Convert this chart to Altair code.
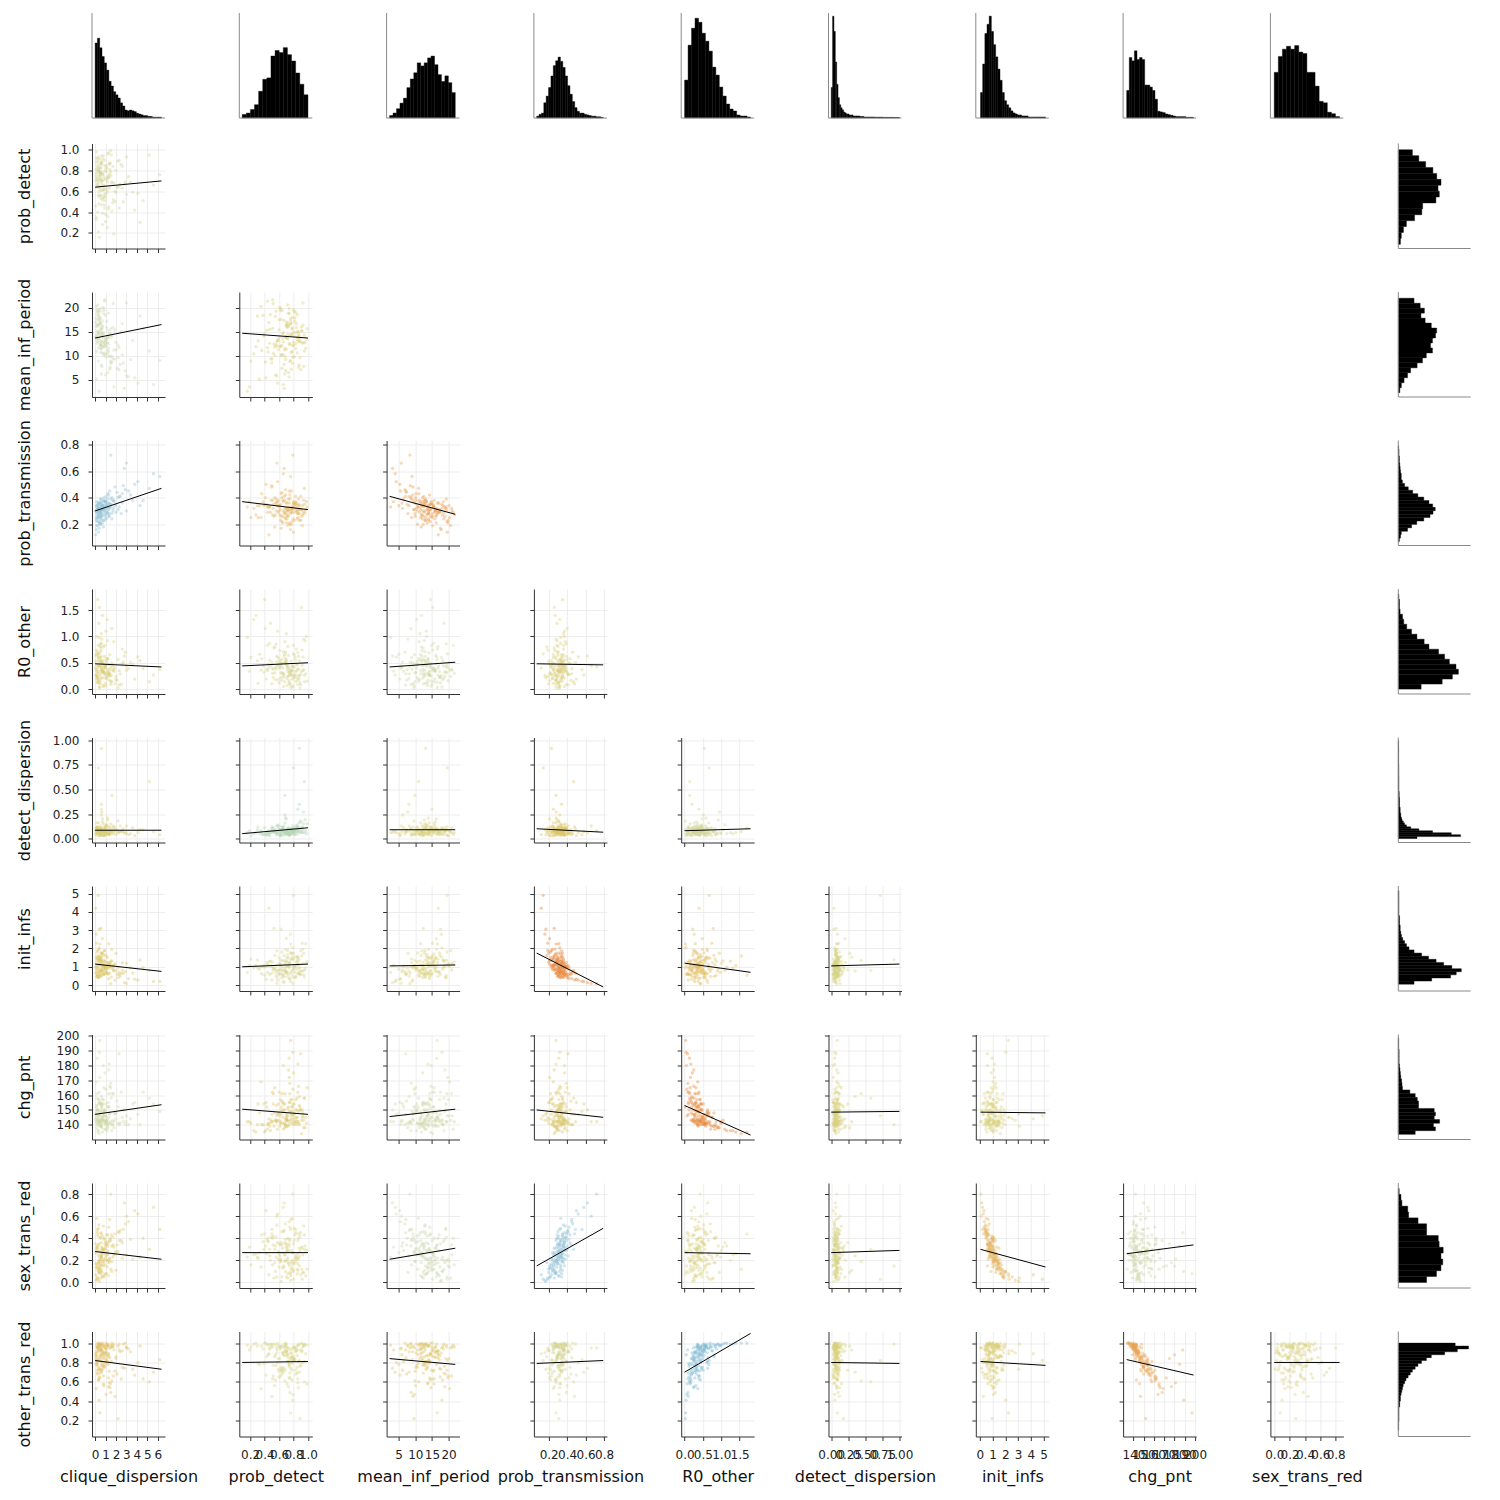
import altair as alt
import pandas as pd

names = ["clique_dispersion", "prob_detect", "mean_inf_period", "prob_transmission",
         "R0_other", "detect_dispersion", "init_infs", "chg_pnt", "sex_trans_red",
         "other_trans_red"]

# ---- posterior sample (values read/estimated from the picture) ----
clique_dispersion = [0.6, 0.3, 1.4, 0.2, 2.3, 0.9, 0.5, 1.8, 0.1, 1.1,
                     0.4, 3.2, 0.15, 0.7, 1.2, 0.25, 1.6, 0.5, 0.8, 1.3,
                     4.1, 0.2, 0.6, 0.9, 2.6, 0.1, 1.5, 0.35, 0.7, 1.2,
                     0.45, 0.8, 2.0, 1.9, 0.3, 0.65, 0.4, 1.0, 0.15, 2.8,
                     1.7, 0.55, 1.3, 0.75, 2.2, 0.05, 0.6, 1.1, 3.6, 0.3,
                     0.85, 5.2, 0.2, 1.25, 0.55, 1.4, 0.5, 1.0, 2.1, 0.7,
                     0.1, 1.6, 0.95, 0.35, 6.2, 1.15, 2.5, 0.45, 0.8, 1.05,
                     0.6, 3.0, 0.25, 1.35, 1.5, 0.9, 0.2, 0.6, 4.6, 0.4,
                     0.5, 1.1, 0.2, 1.7, 0.8, 0.35, 2.4, 0.6, 0.3, 0.45,
                     1.3, 0.15, 2.9, 0.7, 1.0, 0.55, 1.9, 0.25, 1.2, 0.85,
                     0.4, 0.65, 1.45, 3.8, 0.1, 0.9, 1.05, 0.3, 1.6, 1.2,
                     0.75, 2.6, 0.4, 0.2, 0.95, 1.5, 0.05, 0.6, 1.15, 5.6,
                     0.5, 2.0, 0.35, 0.8, 0.6, 1.3, 3.4, 0.25, 1.0, 0.3,
                     0.7, 0.45, 2.2, 0.9, 1.1, 0.15, 1.75, 1.4, 0.55, 0.35,
                     0.7, 2.3, 0.6, 0.2, 1.05, 3.0, 0.4, 1.25, 4.3, 0.1,
                     0.95, 0.5, 1.35, 2.7, 0.65, 0.3, 1.55, 0.85, 0.5, 1.8]
prob_detect = [0.72, 0.55, 0.81, 0.64, 0.90, 0.47, 0.77, 0.68, 0.35, 0.85,
               0.60, 0.74, 0.92, 0.52, 0.69, 0.83, 0.41, 0.79, 0.66, 0.97,
               0.58, 0.71, 0.88, 0.44, 0.63, 0.76, 0.99, 0.57, 0.28, 0.73,
               0.86, 0.62, 0.80, 0.50, 0.70, 0.94, 0.65, 0.38, 0.78, 0.67,
               0.84, 0.53, 0.75, 0.61, 0.89, 0.46, 0.70, 0.82, 0.59, 0.21,
               0.74, 0.95, 0.66, 0.43, 0.77, 0.87, 0.56, 0.72, 0.64, 0.91,
               0.33, 0.69, 0.80, 0.48, 0.76, 0.60, 0.86, 0.71, 0.54, 0.83,
               0.68, 0.93, 0.40, 0.63, 0.79, 0.57, 0.74, 0.88, 0.51, 0.16,
               0.78, 0.62, 0.85, 0.49, 0.71, 0.93, 0.67, 0.56, 0.80, 0.74,
               0.45, 0.88, 0.69, 0.76, 0.31, 0.83, 0.60, 0.72, 0.96, 0.54,
               0.79, 0.65, 0.87, 0.42, 0.73, 0.90, 0.58, 0.81, 0.68, 0.36,
               0.77, 0.84, 0.63, 0.92, 0.51, 0.75, 0.70, 0.86, 0.25, 0.66,
               0.82, 0.59, 0.78, 0.94, 0.47, 0.73, 0.69, 0.89, 0.55, 0.80,
               0.39, 0.76, 0.64, 0.85, 0.71, 0.98, 0.52, 0.77, 0.61, 0.83,
               0.70, 0.44, 0.87, 0.67, 0.79, 0.57, 0.91, 0.74, 0.30, 0.81,
               0.65, 0.72, 0.86, 0.50, 0.78, 0.68, 0.95, 0.62, 0.75, 0.19]
mean_inf_period = [14.5, 18.2, 9.8, 19.5, 7.1, 12.6, 16.8, 11.2, 20.3, 13.4,
                   17.5, 5.6, 15.2, 10.5, 13.9, 19.1, 8.7, 12.1, 14.8, 11.6,
                   4.3, 16.2, 8.1, 21.4, 10.2, 17.8, 15.6, 13.0, 11.9, 6.5,
                   14.1, 19.9, 12.8, 9.3, 16.5, 7.8, 13.6, 18.4, 10.9, 3.2,
                   15.9, 12.4, 14.3, 20.1, 9.6, 16.9, 11.4, 17.2, 13.2, 8.9,
                   18.8, 11.0, 12.9, 15.3, 10.7, 14.7, 19.3, 13.5, 7.4, 16.0,
                   5.1, 14.0, 12.2, 18.6, 9.0, 13.8, 15.1, 17.0, 11.8, 12.5,
                   6.2, 21.0, 14.6, 10.0, 8.4, 12.0, 16.4, 13.1, 15.7, 2.6,
                   15.8, 11.9, 18.6, 9.4, 13.7, 16.4, 8.2, 12.3, 14.9, 19.8,
                   10.8, 14.2, 6.9, 17.3, 13.1, 11.5, 15.4, 20.6, 12.7, 10.1,
                   18.0, 14.6, 7.6, 5.4, 16.1, 12.9, 13.3, 19.2, 9.9, 11.1,
                   14.4, 16.7, 17.6, 12.6, 21.7, 8.8, 13.9, 15.0, 10.4, 4.0,
                   17.9, 11.3, 14.5, 12.8, 15.5, 18.9, 9.2, 13.6, 6.0, 19.6,
                   14.1, 16.6, 12.2, 10.6, 15.9, 13.4, 20.9, 7.2, 12.0, 14.8,
                   16.3, 11.7, 13.0, 17.4, 9.7, 5.8, 15.2, 12.5, 18.3, 14.0,
                   10.3, 16.8, 13.8, 8.5, 15.6, 11.6, 14.3, 19.4, 12.4, 3.5]
prob_transmission = [0.31, 0.27, 0.36, 0.22, 0.41, 0.33, 0.29, 0.38, 0.25, 0.34,
                     0.30, 0.45, 0.19, 0.35, 0.28, 0.32, 0.40, 0.24, 0.37, 0.31,
                     0.52, 0.26, 0.34, 0.29, 0.43, 0.16, 0.33, 0.36, 0.27, 0.39,
                     0.30, 0.23, 0.35, 0.48, 0.32, 0.28, 0.21, 0.37, 0.33, 0.62,
                     0.30, 0.26, 0.42, 0.34, 0.31, 0.12, 0.36, 0.29, 0.38, 0.25,
                     0.33, 0.47, 0.30, 0.35, 0.20, 0.32, 0.39, 0.27, 0.44, 0.31,
                     0.34, 0.24, 0.37, 0.29, 0.56, 0.33, 0.28, 0.36, 0.18, 0.41,
                     0.32, 0.30, 0.35, 0.26, 0.72, 0.34, 0.31, 0.23, 0.38, 0.33,
                     0.29, 0.35, 0.24, 0.38, 0.32, 0.27, 0.41, 0.30, 0.36, 0.21,
                     0.33, 0.28, 0.46, 0.31, 0.25, 0.37, 0.34, 0.19, 0.29, 0.40,
                     0.32, 0.26, 0.35, 0.50, 0.30, 0.23, 0.37, 0.33, 0.28, 0.43,
                     0.31, 0.36, 0.17, 0.34, 0.27, 0.39, 0.30, 0.25, 0.32, 0.58,
                     0.35, 0.29, 0.22, 0.38, 0.33, 0.26, 0.42, 0.31, 0.36, 0.14,
                     0.34, 0.28, 0.40, 0.30, 0.24, 0.37, 0.32, 0.45, 0.27, 0.35,
                     0.21, 0.33, 0.39, 0.29, 0.31, 0.66, 0.26, 0.36, 0.34, 0.23,
                     0.38, 0.30, 0.28, 0.49, 0.33, 0.25, 0.35, 0.31, 0.20, 0.37]
R0_other = [0.42, 0.18, 0.65, 0.31, 0.08, 0.55, 0.27, 0.90, 0.36, 0.47,
            0.12, 0.39, 0.74, 0.22, 0.58, 0.33, 1.15, 0.45, 0.05, 0.29,
            0.61, 0.37, 0.20, 0.83, 0.48, 0.26, 0.15, 0.52, 1.40, 0.34,
            0.69, 0.41, 0.24, 0.10, 0.56, 0.95, 0.30, 0.44, 0.19, 0.63,
            0.35, 0.78, 0.28, 0.50, 0.02, 0.40, 1.05, 0.23, 0.46, 0.60,
            0.32, 0.14, 0.71, 0.38, 0.53, 0.25, 0.86, 0.43, 0.17, 0.33,
            0.66, 0.49, 0.21, 1.25, 0.37, 0.57, 0.09, 0.44, 0.80, 0.27,
            0.51, 0.36, 1.70, 0.31, 0.42, 0.62, 0.13, 0.54, 0.39, 0.98,
            0.35, 0.52, 0.21, 0.44, 0.07, 0.61, 0.29, 0.38, 0.83, 0.16,
            0.47, 0.26, 0.70, 0.33, 0.11, 0.55, 0.40, 0.24, 0.92, 0.31,
            0.04, 0.49, 0.37, 0.19, 0.64, 0.28, 1.10, 0.42, 0.14, 0.58,
            0.34, 0.76, 0.22, 0.45, 0.30, 0.09, 0.53, 0.39, 1.32, 0.27,
            0.60, 0.18, 0.43, 0.36, 0.87, 0.25, 0.50, 0.12, 0.41, 0.67,
            0.32, 0.03, 0.56, 0.46, 0.20, 1.00, 0.38, 0.29, 0.73, 0.15,
            0.48, 0.35, 0.62, 0.23, 0.06, 0.44, 1.55, 0.31, 0.54, 0.27,
            0.40, 0.81, 0.17, 0.51, 0.36, 0.66, 0.26, 0.45, 0.10, 0.34]
detect_dispersion = [0.06, 0.09, 0.04, 0.12, 0.07, 0.03, 0.10, 0.05, 0.08, 0.14,
                     0.06, 0.04, 0.11, 0.07, 0.21, 0.09, 0.05, 0.13, 0.03, 0.08,
                     0.06, 0.10, 0.35, 0.04, 0.07, 0.09, 0.15, 0.05, 0.06, 0.11,
                     0.08, 0.03, 0.07, 0.12, 0.05, 0.27, 0.09, 0.04, 0.10, 0.06,
                     0.13, 0.07, 0.05, 0.08, 0.18, 0.04, 0.09, 0.06, 0.11, 0.03,
                     0.07, 0.58, 0.10, 0.05, 0.08, 0.12, 0.04, 0.06, 0.09, 0.17,
                     0.05, 0.07, 0.10, 0.06, 0.04, 0.13, 0.08, 0.05, 0.07, 0.09,
                     0.24, 0.06, 0.11, 0.04, 0.08, 0.07, 0.05, 0.92, 0.09, 0.06,
                     0.07, 0.05, 0.11, 0.08, 0.04, 0.09, 0.13, 0.06, 0.10, 0.03,
                     0.08, 0.16, 0.05, 0.07, 0.12, 0.04, 0.09, 0.06, 0.19, 0.08,
                     0.05, 0.11, 0.07, 0.03, 0.10, 0.06, 0.14, 0.08, 0.44, 0.05,
                     0.09, 0.07, 0.04, 0.12, 0.06, 0.10, 0.08, 0.30, 0.05, 0.07,
                     0.11, 0.04, 0.09, 0.15, 0.06, 0.08, 0.05, 0.10, 0.07, 0.72,
                     0.04, 0.09, 0.06, 0.12, 0.08, 0.05, 0.11, 0.07, 0.03, 0.09,
                     0.20, 0.06, 0.10, 0.08, 0.05, 0.13, 0.07, 0.04, 0.09, 0.06,
                     0.11, 0.08, 0.05, 0.10, 0.07, 0.16, 0.06, 0.09, 0.04, 0.08]
init_infs = [1.26, 0.87, 1.02, 1.81, 0.58, 0.60, 1.41, 0.76, 1.02, 1.57,
             0.58, 0.36, 2.29, 0.94, 1.24, 0.43, 1.00, 0.85, 0.59, 2.26,
             0.27, 1.50, 0.77, 1.11, 0.82, 2.78, 1.30, 0.42, 1.07, 1.03,
             1.48, 1.08, 1.74, 0.28, 0.73, 1.74, 1.34, 0.99, 0.50, 0.14,
             0.88, 3.10, 0.35, 1.17, 0.96, 4.20, 1.32, 0.71, 0.66, 1.42,
             1.00, 0.81, 0.48, 1.24, 1.76, 1.13, 0.53, 1.67, 0.59, 0.76,
             0.87, 1.95, 0.89, 1.31, 0.21, 1.50, 0.64, 0.72, 1.62, 1.08,
             0.83, 1.18, 0.54, 1.10, 0.08, 1.87, 0.96, 1.38, 0.96, 0.70,
             1.41, 0.64, 1.35, 1.06, 0.63, 1.97, 0.48, 1.08, 1.42, 1.14,
             1.10, 0.64, 0.74, 1.76, 0.92, 0.49, 1.17, 1.89, 0.91, 0.90,
             2.03, 0.80, 0.94, 0.32, 1.48, 1.88, 0.79, 0.40, 1.34, 0.62,
             0.76, 1.22, 3.05, 0.77, 1.27, 1.23, 0.68, 1.52, 0.93, 0.20,
             1.54, 0.81, 1.51, 0.56, 1.30, 1.10, 0.95, 0.56, 0.72, 4.90,
             1.07, 2.24, 0.40, 1.28, 1.05, 1.19, 0.83, 0.66, 0.87, 1.04,
             2.54, 0.70, 0.63, 1.61, 1.06, 0.10, 1.60, 0.62, 1.37, 0.98,
             0.96, 0.48, 1.14, 0.65, 1.70, 1.12, 0.44, 1.36, 1.26, 1.09]
chg_pnt = [151, 143, 148, 161, 188, 141, 146, 138, 169, 145,
           162, 140, 145, 154, 139, 150, 136, 154, 180, 145,
           147, 139, 159, 137, 150, 143, 165, 143, 135, 152,
           142, 157, 144, 147, 145, 138, 155, 140, 152, 150,
           140, 139, 161, 146, 152, 144, 143, 142, 154, 141,
           149, 158, 137, 152, 141, 166, 142, 146, 156, 143,
           148, 140, 175, 136, 149, 143, 162, 143, 148, 142,
           154, 146, 135, 152, 142, 146, 185, 140, 162, 142,
           149, 141, 158, 143, 146, 148, 141, 153, 140, 172,
           141, 153, 140, 157, 154, 144, 148, 143, 138, 165,
           189, 145, 141, 155, 142, 150, 137, 154, 161, 140,
           144, 145, 147, 150, 142, 168, 147, 142, 136, 154,
           141, 148, 157, 143, 139, 177, 144, 150, 143, 146,
           154, 197, 141, 150, 143, 141, 161, 147, 139, 157,
           144, 140, 149, 150, 164, 142, 134, 155, 140, 147,
           149, 139, 181, 142, 152, 141, 158, 142, 155, 142]
sex_trans_red = [0.22, 0.10, 0.38, 0.05, 0.45, 0.30, 0.18, 0.25, 0.14, 0.08,
                 0.35, 0.55, 0.03, 0.42, 0.20, 0.48, 0.33, 0.27, 0.15, 0.06,
                 0.62, 0.31, 0.24, 0.40, 0.36, 0.02, 0.12, 0.52, 0.26, 0.29,
                 0.17, 0.21, 0.11, 0.44, 0.34, 0.09, 0.13, 0.37, 0.58, 0.72,
                 0.23, 0.04, 0.50, 0.19, 0.28, 0.07, 0.32, 0.43, 0.21, 0.16,
                 0.39, 0.30, 0.46, 0.26, 0.12, 0.22, 0.41, 0.08, 0.34, 0.31,
                 0.27, 0.10, 0.35, 0.20, 0.48, 0.14, 0.38, 0.29, 0.18, 0.24,
                 0.36, 0.25, 0.44, 0.19, 0.80, 0.05, 0.33, 0.15, 0.40, 0.23,
                 0.20, 0.34, 0.12, 0.41, 0.28, 0.09, 0.47, 0.23, 0.18, 0.15,
                 0.37, 0.31, 0.53, 0.06, 0.22, 0.45, 0.26, 0.04, 0.33, 0.30,
                 0.10, 0.27, 0.40, 0.65, 0.17, 0.07, 0.36, 0.49, 0.19, 0.43,
                 0.29, 0.22, 0.01, 0.32, 0.16, 0.38, 0.35, 0.11, 0.25, 0.68,
                 0.21, 0.28, 0.13, 0.51, 0.24, 0.18, 0.39, 0.42, 0.33, 0.03,
                 0.30, 0.08, 0.46, 0.26, 0.20, 0.29, 0.34, 0.57, 0.24, 0.19,
                 0.05, 0.38, 0.44, 0.14, 0.27, 0.60, 0.12, 0.35, 0.23, 0.17,
                 0.31, 0.40, 0.21, 0.48, 0.16, 0.25, 0.43, 0.20, 0.09, 0.32]
other_trans_red = [0.88, 0.62, 0.95, 0.72, 0.93, 0.95, 0.85, 0.99, 0.53, 0.87,
                   0.65, 0.94, 0.92, 0.77, 0.97, 0.68, 1.00, 0.82, 0.88, 0.89,
                   0.80, 0.96, 0.70, 0.98, 0.75, 0.90, 0.58, 0.93, 1.00, 0.81,
                   0.98, 0.66, 0.86, 0.45, 0.91, 0.97, 0.74, 0.94, 0.79, 0.74,
                   0.96, 0.99, 0.64, 0.84, 0.22, 0.89, 0.99, 0.83, 0.73, 0.96,
                   0.76, 0.60, 0.96, 0.86, 0.93, 0.54, 0.98, 0.81, 0.68, 0.91,
                   0.78, 0.97, 0.84, 0.99, 0.83, 0.97, 0.63, 0.92, 0.86, 0.91,
                   0.72, 0.96, 1.00, 0.71, 0.95, 0.90, 0.78, 0.99, 0.63, 0.98,
                   0.86, 0.94, 0.69, 0.97, 0.58, 0.99, 0.91, 0.77, 0.96, 0.64,
                   0.88, 0.82, 1.00, 0.74, 0.79, 0.93, 0.71, 0.95, 0.99, 0.56,
                   0.41, 0.90, 0.98, 0.67, 0.85, 0.77, 1.00, 0.84, 0.61, 0.97,
                   0.89, 0.92, 0.73, 0.80, 0.96, 0.49, 0.87, 0.93, 0.99, 0.70,
                   0.95, 0.84, 0.62, 0.98, 0.94, 0.55, 0.91, 0.76, 0.88, 0.82,
                   0.79, 0.28, 0.97, 0.75, 0.90, 0.98, 0.66, 0.85, 0.96, 0.72,
                   0.92, 0.99, 0.81, 0.87, 0.47, 0.95, 1.00, 0.78, 0.97, 0.83,
                   0.90, 0.88, 0.59, 0.99, 0.72, 0.94, 0.81, 0.96, 0.69, 0.93]

samples = [clique_dispersion, prob_detect, mean_inf_period, prob_transmission, R0_other,
           detect_dispersion, init_infs, chg_pnt, sex_trans_red, other_trans_red]

# ---- axis limits and ticks ----
axis_domain = [[-0.3, 6.7], [0.05, 1.06], [1.4, 23.3], [0.04, 0.83], [-0.093, 1.9],
               [-0.04, 1.03], [-0.32, 5.41], [130, 201], [-0.05, 0.9], [0.035, 1.12]]
tick_values = [[0, 1, 2, 3, 4, 5, 6], [0.2, 0.4, 0.6, 0.8, 1.0], [5, 10, 15, 20],
               [0.2, 0.4, 0.6, 0.8], [0, 0.5, 1.0, 1.5], [0, 0.25, 0.5, 0.75, 1.0],
               [0, 1, 2, 3, 4, 5], [140, 150, 160, 170, 180, 190, 200],
               [0, 0.2, 0.4, 0.6, 0.8], [0.2, 0.4, 0.6, 0.8, 1.0]]
tick_format = ["d", ".1f", "d", ".1f", ".1f", ".2f", "d", "d", ".1f", ".1f"]
data_range = [[0, 6.36], [0.09, 1.0], [2.3, 22.0], [0.07, 0.79], [0.0, 1.80],
              [0.0, 1.0], [0.05, 5.15], [133.5, 198.5], [0.0, 0.85], [0.1, 1.0]]

# ---- marginal histograms (relative bar heights, tallest = 100) ----
hist_clique_dispersion = [94, 100, 88, 77, 69, 60, 46, 40, 33, 29, 25, 19, 15, 10, 9,
                          10, 9, 8, 6, 5, 4, 3, 3, 2, 2, 1, 1, 1, 1]
hist_prob_detect = [5, 7, 12, 19, 38, 55, 57, 88, 96, 93, 100, 90, 81, 64, 48, 33]
hist_mean_inf_period = [4, 8, 15, 24, 32, 49, 63, 73, 89, 84, 89, 97, 100, 86, 70, 59,
                        68, 57, 41]
hist_prob_transmission = [3, 6, 8, 25, 36, 50, 69, 86, 94, 100, 93, 83, 69, 53, 39, 27,
                          17, 11, 8, 8, 6, 5, 4, 3, 3, 2, 2, 1]
hist_R0_other = [38, 73, 90, 100, 96, 85, 77, 67, 51, 43, 31, 22, 14, 9, 7, 3, 2, 2, 1]
hist_detect_dispersion = [30, 100, 85, 55, 33, 20, 13, 10, 8, 6, 5, 4, 4, 3, 3, 3, 2, 2,
                          2, 2, 2, 1.5, 1.5, 1.5, 1, 1, 1, 1, 1, 1, 1, 1, 0.8, 0.8, 0.8,
                          0.8, 0.8, 0.8, 0.6, 0.6, 0.6, 0.6, 0.6, 0.6, 0.6, 0.6, 0.5,
                          0.5, 0.5, 0.5]
hist_init_infs = [25, 53, 83, 92, 100, 85, 72, 60, 48, 37, 25, 17, 13, 10, 7, 5, 4, 3,
                  3, 2, 2, 2, 1, 1, 1, 1, 1, 1, 1, 1]
hist_chg_pnt = [41, 90, 85, 100, 87, 90, 87, 49, 49, 46, 41, 28, 10, 9, 8, 6, 5, 4, 3,
                2, 2, 2, 2, 1, 1, 1]
hist_sex_trans_red = [63, 85, 95, 99, 95, 100, 91, 89, 63, 63, 44, 23, 21, 8, 6, 2]
hist_other_trans_red = [0.5, 0.5, 0.5, 1, 1, 1, 1, 1, 2, 2, 3, 3, 4, 5, 6, 7, 9, 11, 14,
                        17, 20, 24, 28, 33, 40, 47, 66, 84, 100, 81]
hist_counts = [hist_clique_dispersion, hist_prob_detect, hist_mean_inf_period,
               hist_prob_transmission, hist_R0_other, hist_detect_dispersion,
               hist_init_infs, hist_chg_pnt, hist_sex_trans_red, hist_other_trans_red]
top_peak = [0.76, 0.67, 0.59, 0.58, 0.95, 0.97, 0.97, 0.64, 0.69, 0.97]
side_peak = [0.76, 0.59, 0.53, 0.51, 0.83, 0.86, 0.87, 0.57, 0.62, 0.97]

# ---- fitted lines: value at the low / high end of the x range; correlations ----
fit_start = [[0.64],
             [13.7, 14.7],
             [0.30, 0.37, 0.41],
             [0.48, 0.44, 0.42, 0.48],
             [0.085, 0.05, 0.09, 0.10, 0.08],
             [1.15, 1.0, 1.05, 1.75, 1.2, 1.05],
             [147, 150.5, 145.5, 150, 153, 148.5, 148.5],
             [0.28, 0.27, 0.21, 0.15, 0.27, 0.27, 0.30, 0.26],
             [0.82, 0.80, 0.84, 0.79, 0.70, 0.80, 0.81, 0.83, 0.80]]
fit_end = [[0.70],
           [16.5, 13.7],
           [0.47, 0.31, 0.275],
           [0.42, 0.50, 0.51, 0.46],
           [0.085, 0.11, 0.09, 0.065, 0.10],
           [0.75, 1.15, 1.1, -0.1, 0.7, 1.15],
           [153.5, 147, 150.5, 145, 133, 149, 148],
           [0.21, 0.27, 0.31, 0.49, 0.26, 0.29, 0.14, 0.34],
           [0.73, 0.81, 0.78, 0.82, 1.10, 0.79, 0.77, 0.67, 0.80]]
corr = [[0.05],
        [0.10, -0.05],
        [0.35, -0.20, -0.35],
        [-0.05, 0.03, 0.08, -0.02],
        [-0.02, 0.15, 0.0, -0.08, 0.05],
        [-0.10, 0.03, 0.0, -0.5, -0.15, 0.01],
        [0.08, -0.08, 0.08, -0.08, -0.45, 0.0, -0.01],
        [-0.08, 0.0, 0.10, 0.35, -0.01, 0.01, -0.2, 0.08],
        [-0.15, 0.01, -0.10, 0.03, 0.45, -0.01, -0.05, -0.3, 0.0]]

# ---- layout (pixels) ----
W, H = 73, 105                 # scatter panels
TOP_H, TOP_FULL = 86.5, 105    # top histograms: cell height / drawn height
SIDE_W, SIDE_FULL = 53, 72.4   # side histograms: cell width / drawn width
FONT = "DejaVu Sans"
HIST_AXIS_COLOR = "#8a8a8a"

cscale = alt.Scale(domain=[-0.5, -0.3, -0.1, 0.0, 0.1, 0.3, 0.5],
                   range=["#e5853a", "#e9a45a", "#dcc56a", "#d9d382", "#cdd6ae",
                          "#9cc6d6", "#76b3d2"])


def hist_frame(i):
    counts = hist_counts[i]
    lo, hi = data_range[i]
    k = len(counts)
    step = (hi - lo) / k
    return pd.DataFrame({"lo": [lo + j * step for j in range(k)],
                         "hi": [lo + (j + 1) * step for j in range(k)],
                         "n": counts, "z": [0] * k})


def top_hist(i):
    vmax = 100 / top_peak[i]
    cut = vmax * (TOP_FULL - TOP_H) / TOP_FULL
    d0, d1 = axis_domain[i]
    xs = alt.Scale(domain=[d0, d1], nice=False, zero=False)
    ys = alt.Scale(domain=[cut, vmax], nice=False, zero=False)
    bars = alt.Chart(hist_frame(i)).mark_rect(
        color="black", stroke="black", strokeWidth=0.4).encode(
        x=alt.X("lo:Q", scale=xs, axis=None), x2="hi:Q",
        y=alt.Y("n:Q", scale=ys, axis=None), y2="z:Q")
    frame = pd.DataFrame({"a": [d0, d0], "b": [d0, d1], "c": [0, 0], "d": [vmax, 0]})
    lines = alt.Chart(frame).mark_rule(color=HIST_AXIS_COLOR, strokeWidth=1).encode(
        x=alt.X("a:Q", scale=xs, axis=None), x2="b:Q",
        y=alt.Y("c:Q", scale=ys, axis=None), y2="d:Q")
    return alt.layer(bars, lines).properties(width=W, height=TOP_H)


def side_hist(i):
    vmax = 100 / side_peak[i]
    cut = vmax * (SIDE_FULL - SIDE_W) / SIDE_FULL
    d0, d1 = axis_domain[i]
    xs = alt.Scale(domain=[cut, vmax], nice=False, zero=False)
    ys = alt.Scale(domain=[d0, d1], nice=False, zero=False)
    bars = alt.Chart(hist_frame(i)).mark_rect(
        color="black", stroke="black", strokeWidth=0.4).encode(
        y=alt.Y("lo:Q", scale=ys, axis=None), y2="hi:Q",
        x=alt.X("n:Q", scale=xs, axis=None), x2="z:Q")
    frame = pd.DataFrame({"a": [0, 0], "b": [0, vmax], "c": [d0, d0], "d": [d1, d0]})
    lines = alt.Chart(frame).mark_rule(color=HIST_AXIS_COLOR, strokeWidth=1).encode(
        x=alt.X("a:Q", scale=xs, axis=None), x2="b:Q",
        y=alt.Y("c:Q", scale=ys, axis=None), y2="d:Q")
    return alt.layer(bars, lines).properties(width=SIDE_W, height=H)


def sc_axis(i, show, is_x):
    kw = dict(values=tick_values[i], format=tick_format[i], labels=show, grid=True,
              gridColor="#e8e8e8", gridWidth=0.8, ticks=True, tickSize=4,
              tickColor="#333333", domainColor="#333333", domainWidth=1,
              labelFontSize=12, labelColor="#222222", labelOverlap=False,
              labelFlush=False, labelPadding=9, titleFontSize=16,
              titleFontWeight="normal", titleColor="#111111", labelFont=FONT,
              titleFont=FONT)
    if is_x:
        kw.update(minExtent=26, maxExtent=26, titlePadding=6)
    else:
        kw.update(minExtent=52, maxExtent=52, titlePadding=8)
    kw["title"] = names[i] if show else None
    return alt.Axis(**kw)


def scatter(xi, yi):
    xs = samples[xi]
    ys = samples[yi]
    n = len(xs)
    df = pd.DataFrame({
        "x": list(xs) + list(data_range[xi]),
        "y": list(ys) + [fit_start[yi - 1][xi], fit_end[yi - 1][xi]],
        "k": ["p"] * n + ["l", "l"],
        "r": [corr[yi - 1][xi]] * (n + 2),
    })
    base = alt.Chart(df).encode(
        x=alt.X("x:Q", scale=alt.Scale(domain=axis_domain[xi], nice=False, zero=False),
                axis=sc_axis(xi, yi == 9, True)),
        y=alt.Y("y:Q", scale=alt.Scale(domain=axis_domain[yi], nice=False, zero=False),
                axis=sc_axis(yi, xi == 0, False)),
    )
    pts = base.transform_filter("datum.k == 'p'").mark_circle(size=11, opacity=0.4).encode(
        color=alt.Color("r:Q", scale=cscale, legend=None))
    line = base.transform_filter("datum.k == 'l'").mark_line(color="black", strokeWidth=1)
    return alt.layer(pts, line).properties(width=W, height=H)


def empty(w, h):
    return alt.Chart(pd.DataFrame({"v": [0]})).mark_point(opacity=0).encode(
        x=alt.X("v:Q", axis=None), y=alt.Y("v:Q", axis=None)).properties(width=w, height=h)


cells = [top_hist(i) for i in range(9)] + [empty(SIDE_W, TOP_H)]
for yi in range(1, 10):
    for xi in range(9):
        cells.append(scatter(xi, yi) if xi < yi else empty(W, H))
    cells.append(side_hist(yi))

chart = alt.concat(*cells, columns=10, align="each", bounds="flush",
                   spacing={"row": 43.5, "column": 74.3}).properties(
    padding={"left": 16, "top": 12, "right": 10, "bottom": 10}
).configure(font=FONT).configure_view(strokeWidth=0)

chart.save("out.html", embed_options={"renderer": "svg", "actions": False})
